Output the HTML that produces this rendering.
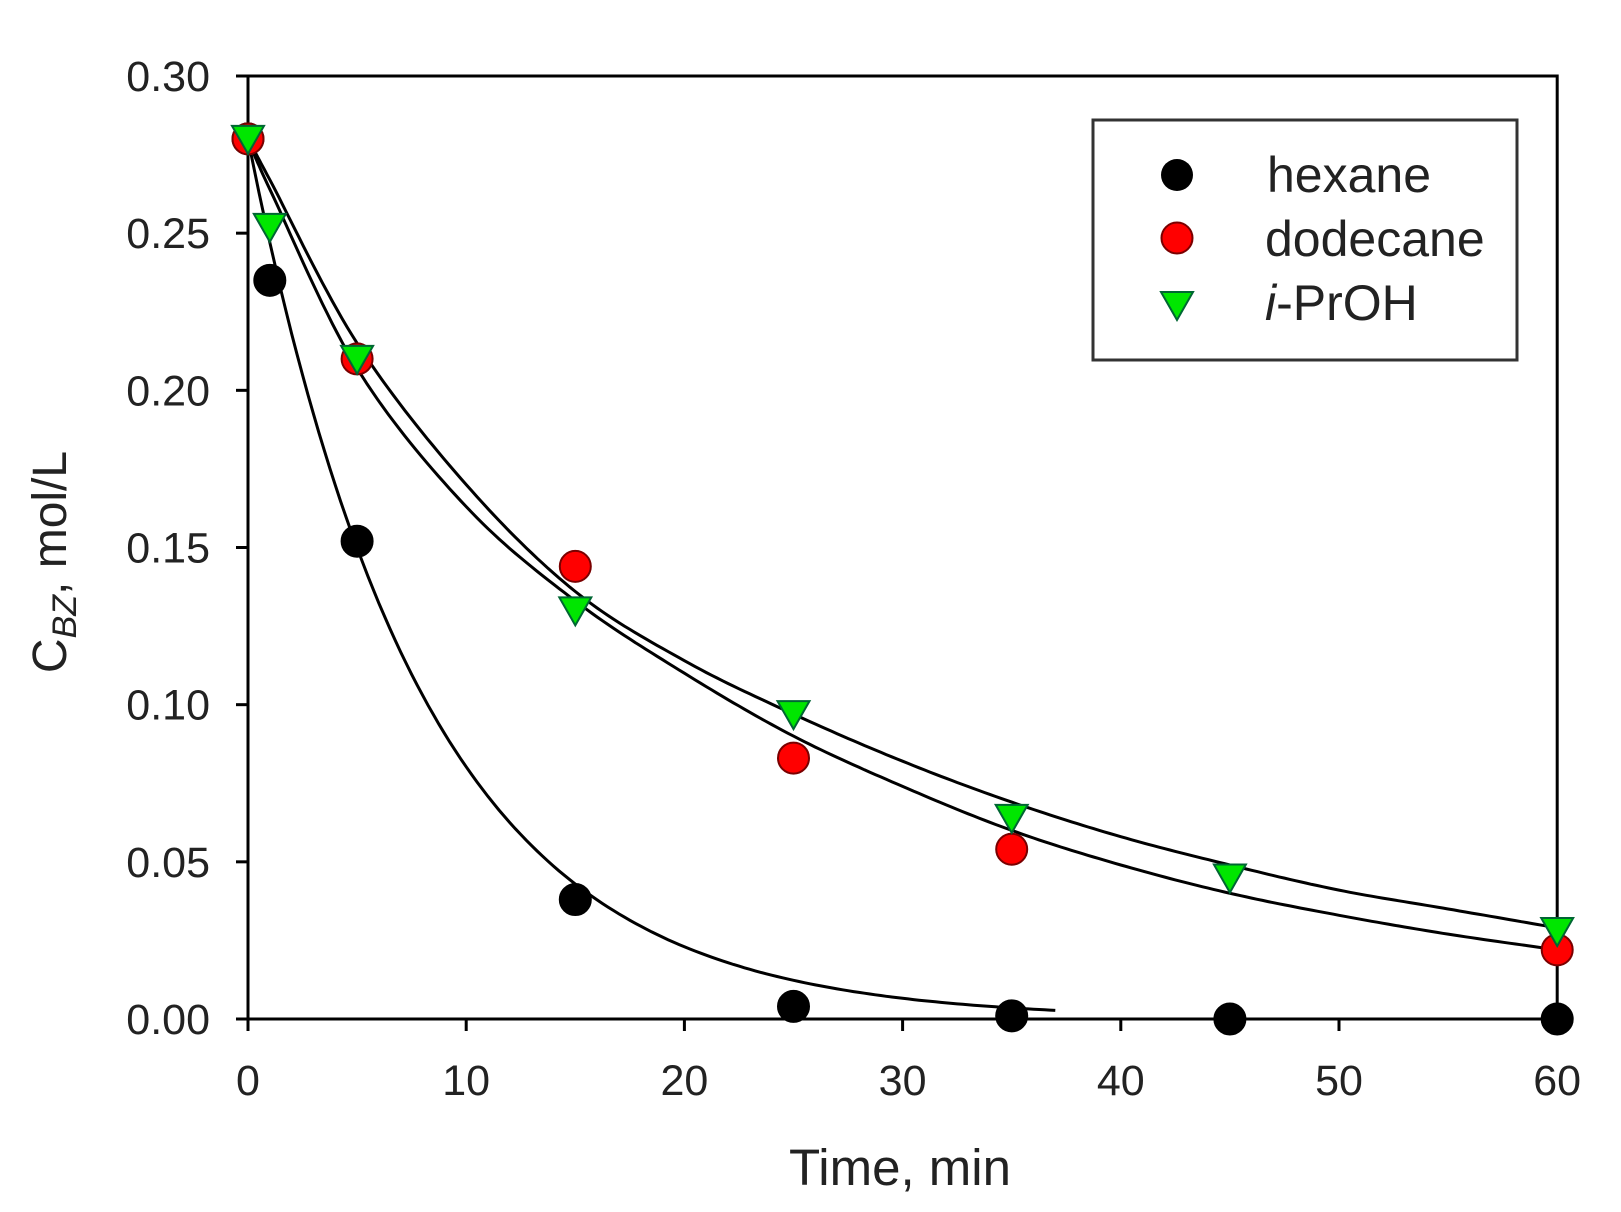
<!DOCTYPE html>
<html><head><style>html,body{margin:0;padding:0;background:#fff}</style></head>
<body>
<svg id="s" width="1621" height="1207" xmlns="http://www.w3.org/2000/svg" font-family="Liberation Sans, Arial, sans-serif">
<rect width="1621" height="1207" fill="#fff"/>
<g id="g"></g>
</svg>
<script>
const X=t=>248+t*218.2/10, Y=c=>1019-c*943/0.30;
let h='';
h+=`<rect x="${X(0)}" y="${Y(.3)}" width="${X(60)-X(0)}" height="${Y(0)-Y(.3)}" fill="none" stroke="#000" stroke-width="3"/>`;
for(let i=0;i<=6;i++){let y=Y(i*.05);h+=`<line x1="${X(0)-12}" x2="${X(0)}" y1="${y}" y2="${y}" stroke="#000" stroke-width="3"/><text x="210" y="${y+15}" font-size="43" text-anchor="end" fill="#222">${(i*.05).toFixed(2)}</text>`;}
for(let i=0;i<=6;i++){let x=X(i*10);h+=`<line x1="${x}" x2="${x}" y1="${Y(0)}" y2="${Y(0)+12}" stroke="#000" stroke-width="3"/><text x="${x}" y="1095" font-size="43" text-anchor="middle" fill="#222">${i*10}</text>`;}
h+=`<text x="900" y="1185" font-size="51" text-anchor="middle" fill="#222">Time, min</text>`;
h+=`<text transform="translate(66,562) rotate(-90)" font-size="48" text-anchor="middle" fill="#222">C<tspan font-size="34" dy="10" font-style="italic">BZ</tspan><tspan dy="-10">, mol/L</tspan></text>`;
function path(pts){let d='';pts.forEach((p,i)=>{d+=(i?'L':'M')+X(p[0]).toFixed(1)+','+Y(p[1]).toFixed(1)});return `<path d="${d}" fill="none" stroke="#000" stroke-width="3"/>`;}
function interp(ts,cs){let out=[];for(let i=0;i<ts.length-1;i++){let p0=i?i-1:i,p3=i+2<ts.length?i+2:i+1;for(let s=0;s<1;s+=0.05){let s2=s*s,s3=s2*s;let f=(a,b,c,d)=>0.5*(2*b+(-a+c)*s+(2*a-5*b+4*c-d)*s2+(-a+3*b-3*c+d)*s3);out.push([f(ts[p0],ts[i],ts[i+1],ts[p3]),f(cs[p0],cs[i],cs[i+1],cs[p3])]);}}out.push([ts[ts.length-1],cs[cs.length-1]]);return out;}
let hx=[];for(let t=0;t<=37;t+=0.25)hx.push([t,.28*Math.exp(-0.125*t)]);
h+=path(hx);
let T=[0,1,5,10,15,20,25,30,35,40,45,50,55,60];
h+=path(interp(T,[.28,.264,.207,.163,.133,.110,.090,.074,.060,.049,.040,.033,.027,.022]));
h+=path(interp(T,[.28,.267,.215,.170,.136,.114,.097,.082,.069,.058,.049,.041,.035,.029]));
const circ=(t,c,f)=>`<circle cx="${X(t)}" cy="${Y(c)}" r="15.5" fill="${f}" stroke="${f=='#000'?'#000':'#7a0000'}" stroke-width="2"/>`;
const tri=(x,y)=>`<path d="M${x-16},${y-13}L${x+16},${y-13}L${x},${y+15}Z" fill="#00e600" stroke="#063" stroke-width="2"/>`;
[[0,.28],[1,.235],[5,.152],[15,.038],[25,.004],[35,.001],[45,0],[60,0]].forEach(p=>h+=circ(p[0],p[1],'#000'));
[[0,.28],[5,.21],[15,.144],[25,.083],[35,.054],[60,.022]].forEach(p=>h+=circ(p[0],p[1],'#f00'));
[[0,.28],[1,.252],[5,.21],[15,.13],[25,.097],[35,.064],[45,.045],[60,.028]].forEach(p=>h+=tri(X(p[0]),Y(p[1])));
h+=`<rect x="1093" y="120" width="424" height="240" fill="#fff" stroke="#333" stroke-width="3"/>`;
h+=`<circle cx="1177" cy="175" r="16" fill="#000"/><circle cx="1177" cy="238" r="15.5" fill="#f00" stroke="#7a0000" stroke-width="2"/>`+tri(1177,305);
h+=`<text x="1267" y="192" font-size="50" fill="#222">hexane</text><text x="1265" y="256" font-size="50" fill="#222">dodecane</text><text x="1265" y="320" font-size="50" fill="#222"><tspan font-style="italic">i</tspan>-PrOH</text>`;
document.getElementById('g').innerHTML=h;
</script>
</body></html>
